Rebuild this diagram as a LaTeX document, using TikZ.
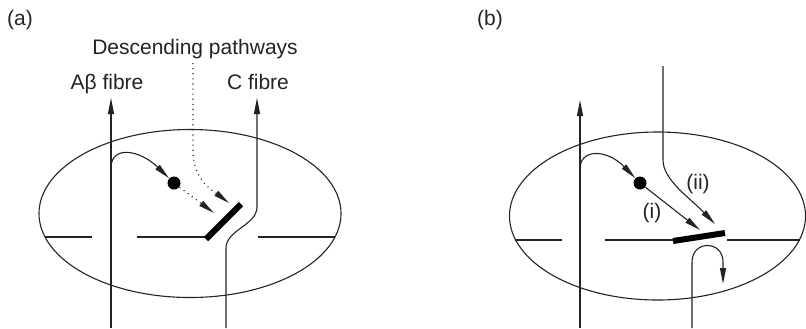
\documentclass[tikz,border=0pt]{standalone}
\usepackage{fontspec}
\setmainfont{Liberation Sans}
\usetikzlibrary{arrows.meta, positioning}
\definecolor{inkGrey}{RGB}{35, 35, 35}

\begin{document}
\begin{tikzpicture}[x=0.5pt, y=-0.5pt,
    every node/.style={font=\fontsize{10.5pt}{12pt}\selectfont, inner sep=0pt, anchor=base, text=inkGrey},
    fibre/.style={line width=0.55pt, draw=inkGrey},
    tip/.style={-{Triangle[length=8pt, width=3pt]}},
    synapse/.style={line width=3pt, draw=black},
    soma/.style={circle, fill=black, minimum size=6.5pt, inner sep=0pt, anchor=center}]
    \useasboundingbox (0,0) rectangle (806,328);

    % panel (a)
    \node (panelA) at (20,25) {(a)};
    \node (descLabel) at (195,54) {Descending pathways};
    \node (abLabel) at (107,89) {Aβ fibre};
    \node (cLabel) at (258,89) {C fibre};

    \draw[fibre] (190,213.5) ellipse [x radius=151, y radius=84];
    \draw[fibre] (45,237) -- (92,237);
    \draw[fibre] (137,237) -- (205,237);
    \draw[fibre] (258,237) -- (335,237);

    \coordinate (abIn) at (111,328);
    \coordinate (abOut) at (111,98);
    \coordinate (abBranch) at (111,167);
    \node[soma] (dotA) at (174,183) {};
    \coordinate (barA1) at (206,239);
    \coordinate (barA2) at (241,204);
    \coordinate (tipA1) at (214,213);
    \coordinate (tipA2) at (229,203);
    \coordinate (descTop) at (193,63);
    \coordinate (cIn) at (226,328);
    \coordinate (cOut) at (257,98);

    \draw[fibre, tip] (abIn) -- (abOut);
    \draw[fibre, tip] (abBranch) .. controls (112,145) and (140,150) .. (dotA);
    \draw[fibre, dotted, tip] (dotA) -- (tipA1);
    \draw[fibre, dotted, tip] (descTop) -- (193,150) .. controls (193,180) and (212,190) .. (tipA2);
    \draw[fibre, tip] (cIn) -- (226,248) .. controls (226,230) and (257,225) .. (257,207) -- (cOut);
    \draw[synapse] (barA1) -- (barA2);

    % panel (b)
    \node (panelB) at (490,25) {(b)};
    \node (labI) at (652,218) {(i)};
    \node (labII) at (698,189) {(ii)};

    \draw[fibre] (657.5,216) ellipse [x radius=148, y radius=84];
    \draw[fibre] (515,240) -- (562,240);
    \draw[fibre] (605,240) -- (673,240);
    \draw[fibre] (727,240) -- (800,240);

    \coordinate (bIn) at (580,328);
    \coordinate (bOut) at (580,100);
    \coordinate (bBranch) at (580,167);
    \node[soma] (dotB) at (640,183) {};
    \coordinate (tipB1) at (700,230);
    \coordinate (tipB2) at (715,224);
    \coordinate (iiTop) at (663,66);
    \coordinate (barB1) at (673,241);
    \coordinate (barB2) at (725,233);
    \coordinate (postIn) at (692,328);
    \coordinate (postOut) at (723,284);

    \draw[fibre, tip] (bIn) -- (bOut);
    \draw[fibre, tip] (bBranch) .. controls (582,148) and (608,150) .. (dotB);
    \draw[fibre, tip] (dotB) -- (tipB1);
    \draw[fibre, tip] (iiTop) -- (663,160) .. controls (663,180) and (690,198) .. (tipB2);
    \draw[fibre, tip] (postIn) -- (692,262) .. controls (692,240) and (723,240) .. (723,262) -- (postOut);
    \draw[synapse] (barB1) -- (barB2);
\end{tikzpicture}
\end{document}
